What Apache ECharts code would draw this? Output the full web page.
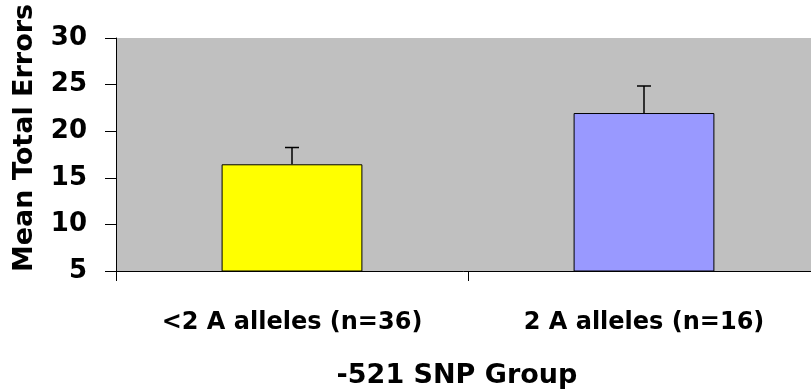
<!DOCTYPE html>
<html>
<head>
<meta charset="utf-8">
<script src="https://cdn.jsdelivr.net/npm/echarts@6/dist/echarts.min.js"></script>
<style>
  html, body { margin: 0; padding: 0; background: #ffffff; }
  #chart { width: 811px; height: 391px; }
</style>
</head>
<body>
<div id="chart"></div>
<script>
// Genotype groups and their mean total errors with standard error
const categories = ['<2 A alleles (n=36)', '2 A alleles (n=16)'];
const means = [16.45, 21.95];
const stdErrors = [1.8, 2.9];
const barColors = ['#ffff00', '#9999ff'];
const yTicks = [5, 10, 15, 20, 25, 30];

const FONT = '"DejaVu Sans", "Liberation Sans", Arial, sans-serif';

const chart = echarts.init(document.getElementById('chart'), null, { renderer: 'canvas' });

const errorData = categories.map((c, i) => [i, means[i], means[i] + stdErrors[i]]);

chart.setOption({
  animation: false,
  backgroundColor: '#ffffff',
  grid: {
    left: 116,
    top: 38,
    right: -9,
    bottom: 120,
    containLabel: false,
    outerBoundsMode: 'none',
    show: true,
    backgroundColor: '#c0c0c0',
    borderWidth: 0
  },
  xAxis: {
    type: 'category',
    data: categories,
    name: '-521 SNP Group',
    nameLocation: 'middle',
    nameGap: 91,
    nameTextStyle: {
      fontFamily: FONT, fontWeight: 'bold', fontSize: 27, color: '#000',
      padding: [0, 22, 0, 0]
    },
    axisLine: { show: true, lineStyle: { color: '#000', width: 1 } },
    axisTick: { show: true, length: 10, alignWithLabel: false, lineStyle: { color: '#000', width: 1 } },
    axisLabel: {
      fontFamily: FONT, fontWeight: 'bold', fontSize: 24, color: '#000',
      margin: 40, interval: 0
    },
    splitLine: { show: false }
  },
  yAxis: {
    type: 'value',
    min: yTicks[0],
    max: yTicks[yTicks.length - 1],
    interval: 5,
    axisLine: { show: true, lineStyle: { color: '#000', width: 1 } },
    axisTick: { show: true, length: 11, lineStyle: { color: '#000', width: 1 } },
    axisLabel: {
      fontFamily: FONT, fontWeight: 'bold', fontSize: 26, color: '#000',
      margin: 29
    },
    splitLine: { show: false }
  },
  graphic: [{
    type: 'text',
    x: 25,
    y: 138,
    rotation: Math.PI / 2,
    style: {
      text: 'Mean Total Errors',
      font: 'bold 27px ' + FONT,
      fill: '#000',
      textAlign: 'center',
      textVerticalAlign: 'middle'
    }
  }],
  series: [
    {
      type: 'bar',
      barWidth: '40%',
      data: means.map((v, i) => ({
        value: v,
        itemStyle: { color: barColors[i], borderColor: '#000', borderWidth: 1 }
      }))
    },
    {
      type: 'custom',
      z: 5,
      data: errorData,
      encode: { x: 0, y: [1, 2] },
      renderItem: function (params, api) {
        const x = api.value(0);
        const base = api.coord([x, api.value(1)]);
        const top = api.coord([x, api.value(2)]);
        const half = 7;
        const style = { stroke: '#000', lineWidth: 1.5 };
        return {
          type: 'group',
          children: [
            { type: 'line', shape: { x1: base[0], y1: base[1], x2: top[0], y2: top[1] }, style: style },
            { type: 'line', shape: { x1: top[0] - half, y1: top[1], x2: top[0] + half, y2: top[1] }, style: style }
          ]
        };
      }
    }
  ]
});
</script>
</body>
</html>
